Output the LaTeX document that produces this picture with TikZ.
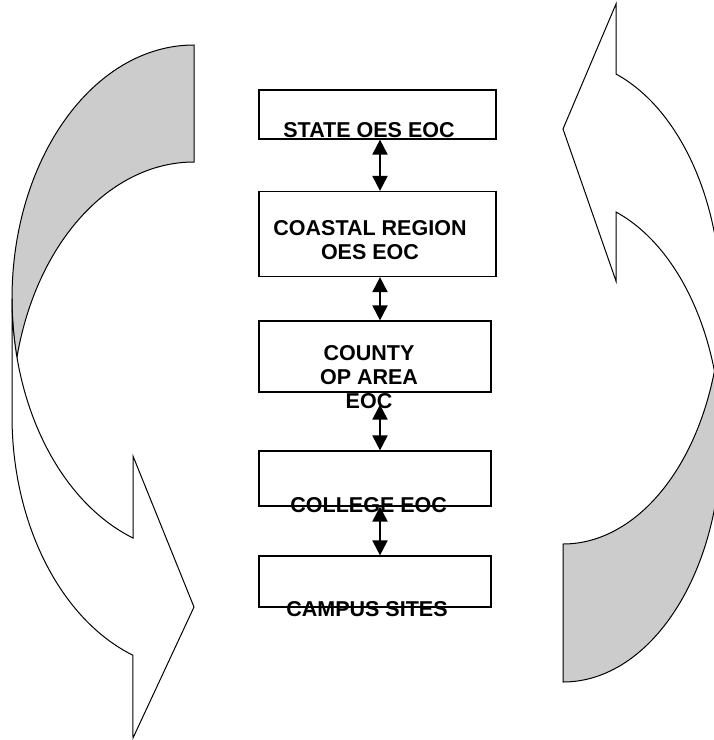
\documentclass[tikz,border=0pt]{standalone}
\usepackage{fontspec}
\setmainfont{Liberation Sans}
\usetikzlibrary{arrows.meta,calc}

\tikzset{
    eoc/.style={draw, line width=1.2pt, inner sep=0},
    lbl/.style={align=center, inner sep=0, anchor=base, font=\bfseries\fontsize{21.5}{24}\selectfont},
    link/.style={>={Triangle[length=15pt,width=15pt]}, <->, line width=2pt},
    back/.style={draw, line width=1pt, fill=gray!40},
    front/.style={draw, line width=1pt, fill=white}
    }

\begin{document}
\begin{tikzpicture}[x=1pt, y=-1pt]
                \useasboundingbox (0,0) rectangle (714,740);
                % The left loop
                \path[back] (12,299) arc[start angle=180, end angle=90, x radius=182pt, y radius=254pt]
                    -- (194,162) arc[start angle=90, end angle=166.7, x radius=182pt, y radius=254pt]
                    arc[start angle=193.3, end angle=180, x radius=182pt, y radius=254pt] -- cycle;
                \path[front] (12,416) arc[start angle=180, end angle=250.4, x radius=182pt, y radius=254pt]
                    -- (133,738) -- (194,607) -- (133,456) -- (133,538)
                    arc[start angle=250.4, end angle=180, x radius=182pt, y radius=254pt] -- cycle;
                % The right loop
                \path[back] (721,440) arc[start angle=0, end angle=-90, x radius=158pt, y radius=242pt]
                    -- (563,544) arc[start angle=-90, end angle=-16.6, x radius=158pt, y radius=242pt]
                    arc[start angle=16.6, end angle=0, x radius=158pt, y radius=242pt] -- cycle;
                \path[front] (721,302) arc[start angle=0, end angle=70.4, x radius=158pt, y radius=242pt]
                    -- (616,4) -- (563,129) -- (616,281) -- (616,212)
                    arc[start angle=70.4, end angle=0, x radius=158pt, y radius=242pt] -- cycle;
                % The boxes
                \node(state)[eoc, minimum width=237pt, minimum height=49pt] at (377.5,114.5) {};
                \node(region)[eoc, minimum width=237pt, minimum height=85pt] at (377.5,234) {};
                \node(county)[eoc, minimum width=232pt, minimum height=71pt] at (375,356.5) {};
                \node(college)[eoc, minimum width=232pt, minimum height=55pt] at (375,478.5) {};
                \node(campus)[eoc, minimum width=232pt, minimum height=51pt] at (375,581.5) {};
                \coordinate(axis) at (380,0);
                % The links
                \draw[link] (state.south -| axis) -- (region.north -| axis);
                \draw[link] (region.south -| axis) -- (county.north -| axis);
                \draw[link] ([yshift=-12pt]county.south -| axis) -- (college.north -| axis);
                \draw[link] (college.south -| axis) -- (campus.north -| axis);
                % The labels
                \node(stateL)[lbl] at (369,137.3) {STATE OES EOC};
                \node(regionL)[lbl] at (370,259.5) {COASTAL REGION\\OES EOC};
                \node(countyL)[lbl] at (369,408.3) {COUNTY\\OP AREA\\EOC};
                \node(collegeL)[lbl] at (368.7,512.7) {COLLEGE EOC};
                \node(campusL)[lbl] at (367,616) {CAMPUS SITES};
            \end{tikzpicture}
\end{document}
